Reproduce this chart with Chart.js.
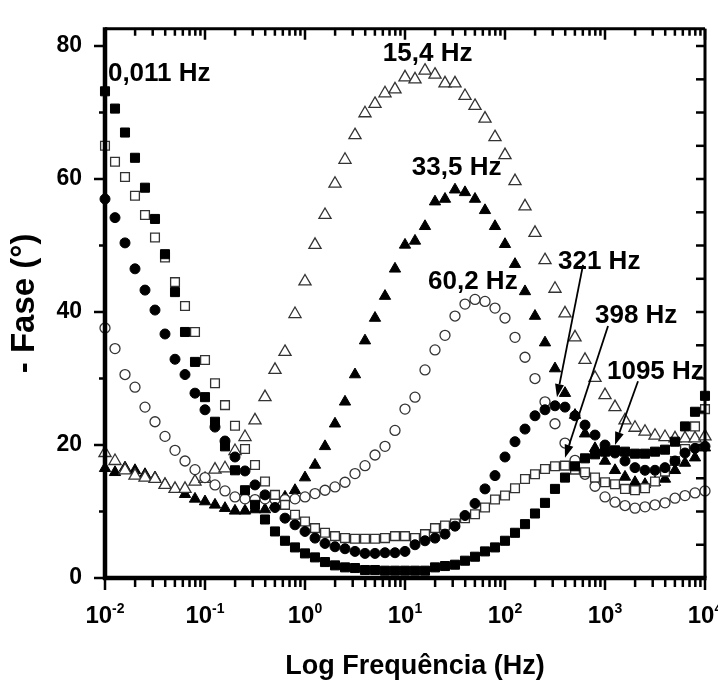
<!DOCTYPE html>
<html>
<head>
<meta charset="utf-8">
<script src="https://cdn.jsdelivr.net/npm/chart.js@4.4.1/dist/chart.umd.min.js"></script>
<style>
  html, body { margin: 0; padding: 0; background: #fff; }
  #wrap { width: 718px; height: 682px; }
</style>
</head>
<body>
<div id="wrap"><canvas id="plot" width="718" height="682"></canvas></div>
<script>
// frequencies (Hz), 10 points per decade
const freq = [
  0.01, 0.01259, 0.01585, 0.01995, 0.02512, 0.03162, 0.03981, 0.05012, 0.0631, 0.07943,
  0.1, 0.1259, 0.1585, 0.1995, 0.2512, 0.3162, 0.3981, 0.5012, 0.631, 0.7943,
  1, 1.259, 1.585, 1.995, 2.512, 3.162, 3.981, 5.012, 6.31, 7.943,
  10, 12.59, 15.85, 19.95, 25.12, 31.62, 39.81, 50.12, 63.1, 79.43,
  100, 125.9, 158.5, 199.5, 251.2, 316.2, 398.1, 501.2, 631, 794.3,
  1000, 1259, 1585, 1995, 2512, 3162, 3981, 5012, 6310, 7943, 10000
];

// - phase (degrees) for each sample
const filledSquare = [
  73.2, 70.6, 67.0, 63.2, 58.7, 54.0, 48.7, 43.0, 37.0, 32.5,
  27.2, 23.5, 19.8, 16.2, 13.2, 11.0, 8.8, 7.0, 5.6, 4.6,
  3.7, 3.1, 2.4, 1.9, 1.6, 1.5, 1.2, 1.2, 1.1, 1.1,
  1.1, 1.1, 1.1, 1.6, 1.8, 2.0, 2.6, 3.2, 4.0, 4.6,
  5.6, 6.8, 8.1, 9.7, 11.3, 13.4, 15.1, 16.8, 18.0, 18.6,
  19.0, 19.2, 19.0, 18.7, 18.7, 19.0, 19.3, 20.5, 22.8, 25.0, 27.4
];
const openSquare = [
  65.0, 62.6, 60.3, 57.5, 54.6, 51.2, 48.2, 44.5, 40.9, 37.0,
  32.8, 29.3, 26.0, 22.9, 19.4, 17.0, 14.5, 12.5, 11.0, 9.5,
  8.5, 7.5, 6.8, 6.3, 6.0, 5.9, 5.9, 5.9, 6.0, 6.3,
  6.3, 6.0, 6.6, 7.5, 7.9, 8.2, 9.0, 9.6, 10.6, 11.8,
  12.4, 13.5, 14.9, 15.6, 16.4, 16.8, 16.9, 16.3, 15.9, 15.1,
  14.4, 14.1, 13.4, 13.2, 13.5, 14.5, 16.0, 17.6, 19.4, 22.8, 25.4
];
const filledCircle = [
  57.0, 54.2, 50.4, 46.5, 43.3, 40.3, 36.7, 32.9, 30.6, 27.8,
  25.3, 22.7, 20.6, 18.2, 16.1, 14.0, 12.5, 10.6, 9.0, 8.0,
  7.0, 6.0, 5.2, 4.7, 4.4, 4.0, 3.7, 3.7, 3.8, 3.8,
  4.0, 5.0, 5.6, 6.0, 6.6, 7.8, 9.4, 11.2, 13.4, 15.4,
  18.2, 20.5, 22.4, 24.4, 25.3, 25.9, 25.7, 24.4, 23.0, 21.5,
  20.0, 18.8, 17.6, 16.6, 16.2, 16.2, 16.6, 17.6, 18.8, 19.5, 19.8
];
const openCircle = [
  37.6, 34.5, 30.6, 28.7, 25.7, 23.5, 21.3, 19.2, 17.6, 16.3,
  15.1, 14.0, 13.1, 12.2, 11.9, 11.8, 11.9, 11.8, 11.8, 11.9,
  12.2, 12.7, 13.2, 13.7, 14.4, 15.7, 16.9, 18.5, 19.8, 22.2,
  25.4, 27.2, 31.3, 34.3, 36.5, 39.4, 41.2, 41.9, 41.6, 40.6,
  39.1, 36.2, 33.2, 30.0, 26.5, 23.2, 20.3, 17.7, 15.6, 13.8,
  12.2, 11.4, 10.9, 10.5, 10.7, 11.0, 11.3, 12.0, 12.4, 12.8, 13.1
];
const openTriangle = [
  18.8, 17.6, 16.2, 15.4, 15.1, 14.9, 14.0, 13.4, 13.4, 14.5,
  14.9, 16.3, 16.5, 19.1, 21.2, 23.7, 27.2, 31.3, 34.0, 39.7,
  44.6, 50.1, 54.6, 59.3, 62.9, 66.6, 69.9, 71.3, 72.9, 73.5,
  75.3, 75.0, 76.3, 75.7, 74.4, 74.4, 72.5, 71.0, 69.1, 66.3,
  63.6, 59.7, 55.9, 51.9, 47.8, 43.5, 39.8, 36.2, 32.8, 30.1,
  27.5, 25.7, 23.7, 22.6, 22.0, 21.4, 21.2, 21.0, 21.0, 21.0, 21.3
];
const filledTriangle = [
  16.5, 15.9, 16.6, 16.2, 15.6, 15.1, 14.1, 13.4, 12.6, 11.9,
  11.5, 11.0, 10.5, 10.1, 10.1, 10.3, 10.3, 11.0, 12.2, 13.2,
  15.1, 17.0, 19.8, 23.2, 26.5, 30.6, 35.7, 39.1, 42.4, 46.5,
  50.1, 50.7, 52.9, 56.6, 57.0, 58.4, 58.0, 57.0, 55.3, 52.9,
  50.2, 47.2, 43.1, 39.4, 35.4, 31.5, 27.8, 24.5, 21.7, 19.5,
  17.6, 16.2, 15.2, 14.4, 14.1, 14.4, 14.9, 16.2, 17.3, 18.1, 19.6
];

// peak labels, placed in data coordinates (left edge, baseline)
const peakLabels = [
  { text: '0,011 Hz', x: 0.0107, y: 74.7 },
  { text: '15,4 Hz', x: 6.0, y: 77.8 },
  { text: '33,5 Hz', x: 11.7, y: 60.6 },
  { text: '60,2 Hz', x: 17.0, y: 43.5 },
  { text: '321 Hz', x: 339, y: 46.5 },
  { text: '398 Hz', x: 794, y: 38.4 },
  { text: '1095 Hz', x: 1047, y: 29.9 }
];
const peakArrows = [
  { from: [603, 47.1], to: [331, 27.2] },
  { from: [1072, 37.9], to: [398, 18.1] },
  { from: [2138, 29.6], to: [1259, 20.0] }
];
const xTickExponents = [-2, -1, 0, 1, 2, 3, 4];
const xTitle = 'Log Frequência (Hz)';
const yMax = 82.6;

const FONT = '"Liberation Sans", Arial, sans-serif';

function toPoints(values) {
  return freq.map((f, i) => ({ x: f, y: values[i] }));
}

const frameAndNotes = {
  id: 'frameAndNotes',
  afterDraw(chart) {
    const { ctx, chartArea: a, scales: { x, y } } = chart;
    ctx.save();
    ctx.strokeStyle = '#000';
    ctx.fillStyle = '#000';
    ctx.lineCap = 'butt';

    // ticks on x (bottom outward, top inward)
    ctx.lineWidth = 2.5;
    for (let e = -2; e <= 4; e++) {
      const px = x.getPixelForValue(Math.pow(10, e));
      ctx.beginPath();
      ctx.moveTo(px, a.bottom); ctx.lineTo(px, a.bottom + 12);
      ctx.moveTo(px, a.top); ctx.lineTo(px, a.top + 11);
      ctx.stroke();
      if (e === 4) break;
      for (let m = 2; m <= 9; m++) {
        const pm = x.getPixelForValue(m * Math.pow(10, e));
        ctx.beginPath();
        ctx.moveTo(pm, a.bottom); ctx.lineTo(pm, a.bottom + 9);
        ctx.moveTo(pm, a.top); ctx.lineTo(pm, a.top + 7);
        ctx.stroke();
      }
    }
    // ticks on y (left outward, right inward)
    for (let v = 0; v <= 80; v += 5) {
      const py = y.getPixelForValue(v);
      ctx.beginPath();
      if (v % 20 === 0) {
        ctx.moveTo(a.left, py); ctx.lineTo(a.left - 11, py);
      } else if (v % 10 === 0) {
        ctx.moveTo(a.left, py); ctx.lineTo(a.left - 6, py);
      }
      if (v > 0) { ctx.moveTo(a.right, py); ctx.lineTo(a.right - 9, py); }
      ctx.stroke();
    }

    // frame
    ctx.lineWidth = 3;
    ctx.beginPath();
    ctx.moveTo(a.left, a.top); ctx.lineTo(a.right, a.top);
    ctx.moveTo(a.right, a.top); ctx.lineTo(a.right, a.bottom);
    ctx.stroke();
    ctx.lineWidth = 4.5;
    ctx.beginPath();
    ctx.moveTo(a.left, a.top - 1.5); ctx.lineTo(a.left, a.bottom + 2);
    ctx.moveTo(a.left - 2, a.bottom); ctx.lineTo(a.right + 1.5, a.bottom);
    ctx.stroke();

    // x tick labels 10^n
    ctx.textBaseline = 'alphabetic';
    ctx.textAlign = 'left';
    xTickExponents.forEach(e => {
      const px = x.getPixelForValue(Math.pow(10, e));
      const base = '10';
      const sup = String(e);
      ctx.font = 'bold 24px ' + FONT;
      const w1 = ctx.measureText(base).width;
      ctx.font = 'bold 14px ' + FONT;
      const w2 = ctx.measureText(sup).width;
      const start = px - (w1 + w2) / 2;
      ctx.font = 'bold 24px ' + FONT;
      ctx.fillText(base, start, 623);
      ctx.font = 'bold 14px ' + FONT;
      ctx.fillText(sup, start + w1, 613);
    });

    // x axis title
    ctx.font = 'bold 27px ' + FONT;
    ctx.textAlign = 'center';
    ctx.fillText(xTitle, (a.left + a.right) / 2 + 10, 674);
    ctx.textAlign = 'left';

    // peak labels
    ctx.font = 'bold 26px ' + FONT;
    peakLabels.forEach(l => {
      ctx.fillText(l.text, x.getPixelForValue(l.x), y.getPixelForValue(l.y));
    });

    // arrows
    ctx.lineWidth = 1.8;
    peakArrows.forEach(ar => {
      const x1 = x.getPixelForValue(ar.from[0]), y1 = y.getPixelForValue(ar.from[1]);
      const x2 = x.getPixelForValue(ar.to[0]), y2 = y.getPixelForValue(ar.to[1]);
      const ang = Math.atan2(y2 - y1, x2 - x1);
      const len = 13, hw = 4.5;
      const bx = x2 - len * Math.cos(ang), by = y2 - len * Math.sin(ang);
      ctx.beginPath();
      ctx.moveTo(x1, y1); ctx.lineTo(bx, by);
      ctx.stroke();
      ctx.beginPath();
      ctx.moveTo(x2, y2);
      ctx.lineTo(bx + hw * Math.sin(ang), by - hw * Math.cos(ang));
      ctx.lineTo(bx - hw * Math.sin(ang), by + hw * Math.cos(ang));
      ctx.closePath();
      ctx.fill();
    });
    ctx.restore();
  }
};

const canvas = document.getElementById('plot');
new Chart(canvas, {
  type: 'scatter',
  data: {
    datasets: [{
      label: 'filled circle',
      data: toPoints(filledCircle),
      pointStyle: 'circle', pointRadius: 5,
      backgroundColor: '#000', borderColor: '#000', borderWidth: 1
    }, {
      label: 'filled square',
      data: toPoints(filledSquare),
      pointStyle: 'rect', pointRadius: 6.4,
      backgroundColor: '#000', borderColor: '#000', borderWidth: 1
    }, {
      label: 'open square',
      data: toPoints(openSquare),
      pointStyle: 'rect', pointRadius: 6.2,
      backgroundColor: '#fff', borderColor: '#333', borderWidth: 1.3
    }, {
      label: 'open circle',
      data: toPoints(openCircle),
      pointStyle: 'circle', pointRadius: 5,
      backgroundColor: '#fff', borderColor: '#333', borderWidth: 1.3
    }, {
      label: 'open triangle',
      data: toPoints(openTriangle),
      pointStyle: 'triangle', pointRadius: 7,
      backgroundColor: '#fff', borderColor: '#333', borderWidth: 1.3
    }, {
      label: 'filled triangle',
      data: toPoints(filledTriangle),
      pointStyle: 'triangle', pointRadius: 6.5,
      backgroundColor: '#000', borderColor: '#000', borderWidth: 1
    }]
  },
  options: {
    responsive: false,
    animation: false,
    devicePixelRatio: 1,
    layout: { autoPadding: false, padding: { top: 16, right: 13, left: 0, bottom: 0 } },
    plugins: { legend: { display: false }, tooltip: { enabled: false } },
    datasets: { scatter: { clip: false } },
    scales: {
      x: {
        type: 'logarithmic',
        min: 0.01, max: 10000,
        grid: { display: false },
        border: { display: false },
        ticks: { display: false },
        title: { display: false },
        afterFit(scale) { scale.height = 104; }
      },
      y: {
        min: 0, max: yMax,
        grid: { display: false },
        border: { display: false },
        ticks: {
          stepSize: 20, includeBounds: false, padding: 15, color: '#000',
          font: { family: FONT, size: 23, weight: 'bold' },
          callback: v => (v % 20 === 0 ? String(v) : '')
        },
        title: {
          display: true, text: '- Fase (°)', color: '#000',
          font: { family: FONT, size: 33, weight: 'bold' },
          padding: { top: 5, bottom: 0 }
        },
        afterFit(scale) { scale.width = 105; }
      }
    }
  },
  plugins: [frameAndNotes]
});
</script>
</body>
</html>
